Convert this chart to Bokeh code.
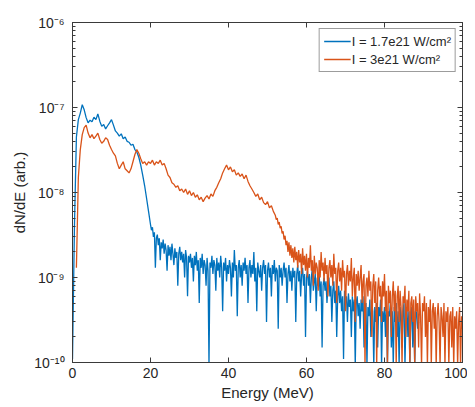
from bokeh.plotting import figure
from bokeh.models import (Range1d, FixedTicker, LinearAxis, LogAxis, Legend,
                          LegendItem, CustomJSTickFormatter, ColumnDataSource)
from bokeh.embed import file_html
from bokeh.resources import INLINE

# ---------------- data ----------------
# each series: a coarse low-energy part (0.5 MeV bins) and a fine noisy tail (0.25 MeV bins)
blue_label = "I = 1.7e21 W/cm\u00b2"
blue_head_start, blue_head_step = 0.0, 0.5
blue_head_values = [
    1.1e-10, 4e-9, 4.5e-8, 7.2e-8, 8.6e-8, 1.08e-7, 9.4e-8, 7.6e-8, 6.6e-8, 7.1e-8,
    6.8e-8, 7.7e-8, 7.2e-8, 8.4e-8, 6.9e-8, 6.0e-8, 6.3e-8, 5.6e-8, 6.1e-8, 6.6e-8,
    7.2e-8, 6.2e-8, 5.3e-8, 5.0e-8, 4.6e-8, 4.9e-8, 4.3e-8, 4.5e-8, 4.0e-8, 3.9e-8,
    3.6e-8, 3.7e-8, 3.2e-8, 3.0e-8, 2.6e-8, 2.1e-8, 1.6e-8, 1.2e-8, 8.5e-9, 6.0e-9,
]
blue_tail_start, blue_tail_step = 20.0, 0.25
blue_tail_values = [
    4.2e-9, 3.6e-9, 3.9e-9, 3.0e-9, 3.4e-9, 1.3e-9, 2.9e-9, 3.2e-9,
    2.4e-9, 2.9e-9, 1.6e-9, 2.6e-9, 2.2e-9, 2.8e-9, 1.9e-9, 2.5e-9,
    2.1e-9, 1.2e-9, 2.4e-9, 1.8e-9, 2.3e-9, 1.6e-9, 2.5e-9, 1.9e-9,
    1.4e-9, 2.2e-9, 1.7e-9, 2.0e-9, 8e-10, 1.9e-9, 2.3e-9, 1.6e-9,
    2.0e-9, 1.5e-9, 1.9e-9, 1.0e-9, 2.1e-9, 1.7e-9, 6e-10, 1.8e-9,
    1.5e-9, 1.9e-9, 1.3e-9, 1.7e-9, 9e-10, 1.8e-9, 1.4e-9, 2.0e-9,
    1.2e-9, 1.6e-9, 5e-10, 1.7e-9, 1.3e-9, 1.9e-9, 1.1e-9, 1.6e-9,
    1.4e-9, 8e-10, 1.7e-9, 1.2e-9, 9e-11, 1.5e-9, 1.3e-9, 1.8e-9,
    1.1e-9, 1.6e-9, 1.4e-9, 7e-10, 1.7e-9, 1.2e-9, 1.5e-9, 1.0e-9,
    1.8e-9, 1.3e-9, 4e-10, 1.5e-9, 1.2e-9, 1.7e-9, 9e-10, 1.4e-9,
    1.1e-9, 1.6e-9, 1.3e-9, 6e-10, 1.5e-9, 1.0e-9, 2.1e-9, 1.2e-9,
    1.4e-9, 3.5e-10, 1.3e-9, 1.6e-9, 1.0e-9, 1.4e-9, 8e-10, 1.5e-9,
    1.2e-9, 1.7e-9, 1.1e-9, 1.4e-9, 5e-10, 1.3e-9, 1.6e-9, 1.0e-9,
    1.4e-9, 1.1e-9, 2.0e-9, 9e-10, 1.3e-9, 4e-10, 1.5e-9, 1.2e-9,
    1.0e-9, 1.4e-9, 7e-10, 1.3e-9, 1.6e-9, 1.1e-9, 1.4e-9, 3e-10,
    1.2e-9, 1.5e-9, 1.0e-9, 1.3e-9, 6e-10, 1.4e-9, 1.1e-9, 1.6e-9,
    9e-10, 1.3e-9, 1.2e-9, 2.5e-10, 1.4e-9, 1.0e-9, 1.3e-9, 8e-10,
    1.2e-9, 1.5e-9, 1.0e-9, 1.3e-9, 5e-10, 1.1e-9, 1.4e-9, 9e-10,
    1.2e-9, 7e-10, 1.3e-9, 1.0e-9, 1.2e-9, 3e-10, 1.1e-9, 1.4e-9,
    9e-10, 1.2e-9, 6e-10, 1.1e-9, 1.3e-9, 8e-10, 1.1e-9, 2e-10,
    1.0e-9, 1.2e-9, 8e-10, 1.1e-9, 5e-10, 1.0e-9, 1.3e-9, 7e-10,
    9e-10, 1.1e-9, 4e-10, 1.0e-9, 8e-10, 1.1e-9, 6e-10, 9e-10,
    1.5e-10, 8e-10, 1.0e-9, 7e-10, 9e-10, 5e-10, 8e-10, 1.0e-9,
    6e-10, 8e-10, 3e-10, 7e-10, 9e-10, 5e-10, 7e-10, 2e-10,
    6e-10, 8e-10, 5e-10, 7e-10, 4e-10, 6e-10, 1.1e-10, 7e-10,
    5e-10, 6e-10, 3e-10, 6.5e-10, 4.5e-10, 5.5e-10, 2e-10, 6e-10,
    4e-10, 5.5e-10, 9e-11, 5e-10, 6e-10, 3.5e-10, 5e-10, 2.5e-10,
    5.5e-10, 4e-10, 6e-10, 1.5e-10, 4.5e-10, 5e-10, 9e-11, 4.5e-10,
    3.5e-10, 5.5e-10, 2e-10, 5e-10, 4e-10, 9e-11, 4.5e-10, 3e-10,
    5e-10, 1.5e-10, 4.5e-10, 3.5e-10, 5.5e-10, 9e-11, 4e-10, 3e-10,
    4.5e-10, 2e-10, 5e-10, 9e-11, 4e-10, 3.5e-10, 5e-10, 1.5e-10,
    4e-10, 9e-11, 4.5e-10, 3e-10, 5e-10, 2e-10, 4e-10, 9e-11,
    4.5e-10, 3.5e-10, 1.5e-10, 4e-10, 5e-10, 9e-11, 3.5e-10, 4.5e-10,
    2e-10, 4e-10, 9e-11, 3.5e-10, 4.5e-10, 1.5e-10, 4e-10, 9e-11,
    3.5e-10, 4e-10, 2.5e-10, 3e-10,
]

orange_label = "I = 3e21 W/cm\u00b2"
orange_head_start, orange_head_step = 1.0, 0.5
orange_head_values = [
    1.3e-9, 1.5e-8, 3.2e-8, 4.8e-8, 5.8e-8, 6.2e-8, 5.0e-8, 4.4e-8,
    4.8e-8, 4.3e-8, 4.6e-8, 5.0e-8, 4.2e-8, 3.8e-8, 4.0e-8, 4.4e-8, 4.2e-8, 3.6e-8,
    3.2e-8, 2.9e-8, 2.7e-8, 2.2e-8, 1.9e-8, 2.1e-8, 2.3e-8, 1.9e-8, 1.8e-8, 1.7e-8,
    1.9e-8, 2.3e-8, 2.8e-8, 3.2e-8, 2.9e-8, 2.5e-8, 2.2e-8, 2.3e-8, 2.1e-8, 2.3e-8,
    2.2e-8, 2.4e-8, 2.1e-8, 2.3e-8, 2.2e-8, 2.4e-8, 2.1e-8, 2.2e-8, 1.9e-8, 1.6e-8,
    1.5e-8, 1.3e-8, 1.25e-8, 1.15e-8, 1.2e-8, 1.05e-8, 1.1e-8, 1.0e-8, 1.1e-8, 9.5e-9,
    1.05e-8, 9.2e-9, 1.0e-8, 8.8e-9, 9.4e-9, 8.2e-9, 8.8e-9, 7.8e-9, 8.6e-9, 9.2e-9,
    8.4e-9, 9.6e-9, 9.0e-9, 1.05e-8, 1.15e-8, 1.3e-8, 1.45e-8, 1.7e-8, 1.9e-8, 2.1e-8,
    1.85e-8, 2.0e-8, 1.75e-8, 1.85e-8, 1.6e-8, 1.7e-8, 1.55e-8, 1.65e-8, 1.45e-8, 1.6e-8,
    1.35e-8, 1.2e-8, 1.1e-8, 1.0e-8, 9.0e-9, 9.6e-9, 8.2e-9, 8.8e-9, 7.6e-9, 7.2e-9,
    7.8e-9, 6.6e-9, 7.0e-9, 6.0e-9,
]
orange_tail_start, orange_tail_step = 52.0, 0.25
orange_tail_values = [
    5.4e-9, 4.8e-9, 5.0e-9, 4.2e-9, 4.5e-9, 3.8e-9, 4.0e-9, 3.3e-9,
    3.5e-9, 2.8e-9, 3.1e-9, 2.4e-9, 2.7e-9, 2.0e-9, 2.6e-9, 1.8e-9,
    2.4e-9, 1.7e-9, 2.2e-9, 1.5e-9, 2.3e-9, 1.6e-9, 2.0e-9, 1.3e-9,
    2.1e-9, 1.5e-9, 1.9e-9, 1.1e-9, 2.2e-9, 1.4e-9, 1.8e-9, 1.2e-9,
    1.9e-9, 1.0e-9, 1.7e-9, 1.3e-9, 2.4e-9, 1.2e-9, 1.6e-9, 8e-10,
    1.8e-9, 1.1e-9, 1.5e-9, 1.3e-9, 7e-10, 1.6e-9, 1.0e-9, 2.0e-9,
    1.2e-9, 1.5e-9, 9e-10, 1.7e-9, 1.1e-9, 1.4e-9, 6e-10, 1.3e-9,
    1.6e-9, 1.0e-9, 1.4e-9, 8e-10, 1.9e-9, 1.1e-9, 1.3e-9, 5e-10,
    1.2e-9, 1.5e-9, 9e-10, 1.3e-9, 7e-10, 1.6e-9, 1.0e-9, 1.2e-9,
    4e-10, 1.1e-9, 1.4e-9, 8e-10, 1.2e-9, 9e-10, 1.7e-9, 6e-10,
    1.0e-9, 1.3e-9, 3e-10, 1.1e-9, 8e-10, 1.2e-9, 7e-10, 1.0e-9,
    1.4e-9, 5e-10, 9e-10, 1.1e-9, 9e-11, 8e-10, 1.0e-9, 6e-10,
    1.2e-9, 7e-10, 9e-10, 2e-10, 8e-10, 1.1e-9, 5e-10, 9e-10,
    9e-11, 7e-10, 1.0e-9, 6e-10, 8e-10, 3e-10, 9e-10, 6e-10,
    1.1e-9, 4e-10, 7e-10, 9e-11, 8e-10, 5e-10, 7e-10, 2e-10,
    6e-10, 9e-10, 4e-10, 7e-10, 9e-11, 6e-10, 8e-10, 3e-10,
    7e-10, 4.5e-10, 9e-11, 6e-10, 5e-10, 8e-10, 2e-10, 5.5e-10,
    4e-10, 7e-10, 9e-11, 5e-10, 6e-10, 3e-10, 5.5e-10, 9e-11,
    6e-10, 4e-10, 5e-10, 1.5e-10, 6.5e-10, 3.5e-10, 9e-11, 5e-10,
    4e-10, 6e-10, 2e-10, 5e-10, 9e-11, 4.5e-10, 3e-10, 5.5e-10,
    9e-11, 4e-10, 5e-10, 2.5e-10, 4.5e-10, 9e-11, 3.5e-10, 5e-10,
    3e-10, 9e-11, 4.5e-10, 3.5e-10, 2e-10, 5e-10, 9e-11, 4e-10,
    3e-10, 4.5e-10, 9e-11, 3.5e-10, 4e-10, 1.5e-10, 4.5e-10, 9e-11,
    3.5e-10, 2.5e-10, 4e-10, 9e-11, 3e-10, 4.5e-10, 9e-11, 3.5e-10,
    2.5e-10,
]

x_ticks = [0, 20, 40, 60, 80, 100]
y_decades = [1e-10, 1e-9, 1e-8, 1e-7, 1e-6]
x_title = "Energy (MeV)"
y_title = "dN/dE (arb.)"

# ---------------- build ----------------
def grid(start, step, vals):
    return [start + i * step for i in range(len(vals))]

blue_energy = grid(blue_head_start, blue_head_step, blue_head_values) + \
    grid(blue_tail_start, blue_tail_step, blue_tail_values)
blue_values = blue_head_values + blue_tail_values
orange_energy = grid(orange_head_start, orange_head_step, orange_head_values) + \
    grid(orange_tail_start, orange_tail_step, orange_tail_values)
orange_values = orange_head_values + orange_tail_values

FONT = "Liberation Sans"
TXT = "#262626"
AX = "#3a3a3a"
BLUE = "#0072BD"
ORANGE = "#D95319"

p = figure(width=467, height=403, y_axis_type="log",
           x_range=Range1d(0, 100), y_range=Range1d(1e-10, 1e-6),
           output_backend="svg", toolbar_location=None,
           min_border_left=72, min_border_right=5, min_border_top=22,
           min_border_bottom=0)
p.grid.visible = False
p.outline_line_color = AX
p.outline_line_width = 1
p.background_fill_color = "white"
p.border_fill_color = "white"

minor = [m * d for d in y_decades[:-1] for m in range(2, 10)]
yticker = FixedTicker(ticks=y_decades, minor_ticks=minor)
xticker = FixedTicker(ticks=x_ticks, minor_ticks=[])

sup_fmt = CustomJSTickFormatter(code="""
const e = Math.round(Math.log10(tick));
const s = {"-":"\u207b","0":"\u2070","1":"\u00b9","2":"\u00b2","3":"\u00b3",
           "4":"\u2074","5":"\u2075","6":"\u2076","7":"\u2077","8":"\u2078","9":"\u2079"};
return "10" + String(e).split("").map(c => s[c]).join("");
""")
blank_fmt = CustomJSTickFormatter(code="return '';")

def style(ax, ticker):
    ax.ticker = ticker
    ax.axis_line_color = AX
    ax.major_tick_line_color = AX
    ax.minor_tick_line_color = AX
    ax.major_tick_in = 5
    ax.major_tick_out = 0
    ax.minor_tick_in = 3
    ax.minor_tick_out = 0
    ax.major_label_text_font = FONT
    ax.major_label_text_font_size = "14px"
    ax.major_label_text_color = TXT
    ax.axis_label_text_font = FONT
    ax.axis_label_text_font_size = "15px"
    ax.axis_label_text_font_style = "normal"
    ax.axis_label_text_color = TXT

xa = p.xaxis[0]
style(xa, xticker)
xa.axis_label = x_title
xa.major_label_standoff = 5
xa.axis_label_standoff = 3

ya = p.yaxis[0]
style(ya, yticker)
ya.formatter = sup_fmt
ya.axis_label = y_title
ya.major_label_standoff = 8
ya.axis_label_standoff = 3

top = LinearAxis(formatter=blank_fmt)
style(top, xticker)
p.add_layout(top, "above")
right = LogAxis(formatter=blank_fmt)
style(right, yticker)
p.add_layout(right, "right")
for a in (top, right):
    a.major_label_standoff = 0
    a.major_label_text_font_size = "1px"

src_b = ColumnDataSource(dict(x=blue_energy, y=blue_values))
src_o = ColumnDataSource(dict(x=orange_energy, y=orange_values))
rb = p.line("x", "y", source=src_b, line_color=BLUE, line_width=1.3)
ro = p.line("x", "y", source=src_o, line_color=ORANGE, line_width=1.3)

legend = Legend(items=[LegendItem(label=blue_label, renderers=[rb]),
                       LegendItem(label=orange_label, renderers=[ro])],
                location="top_right")
legend.label_text_font = FONT
legend.label_text_font_size = "13px"
legend.label_text_color = TXT
legend.border_line_color = AX
legend.border_line_width = 1
legend.background_fill_color = "white"
legend.background_fill_alpha = 1
legend.glyph_width = 27
legend.glyph_height = 16
legend.label_height = 16
legend.label_standoff = 1
legend.padding = 4
legend.spacing = 2
legend.margin = 6
p.add_layout(legend)

open("out.html", "w").write(file_html(p, INLINE))
